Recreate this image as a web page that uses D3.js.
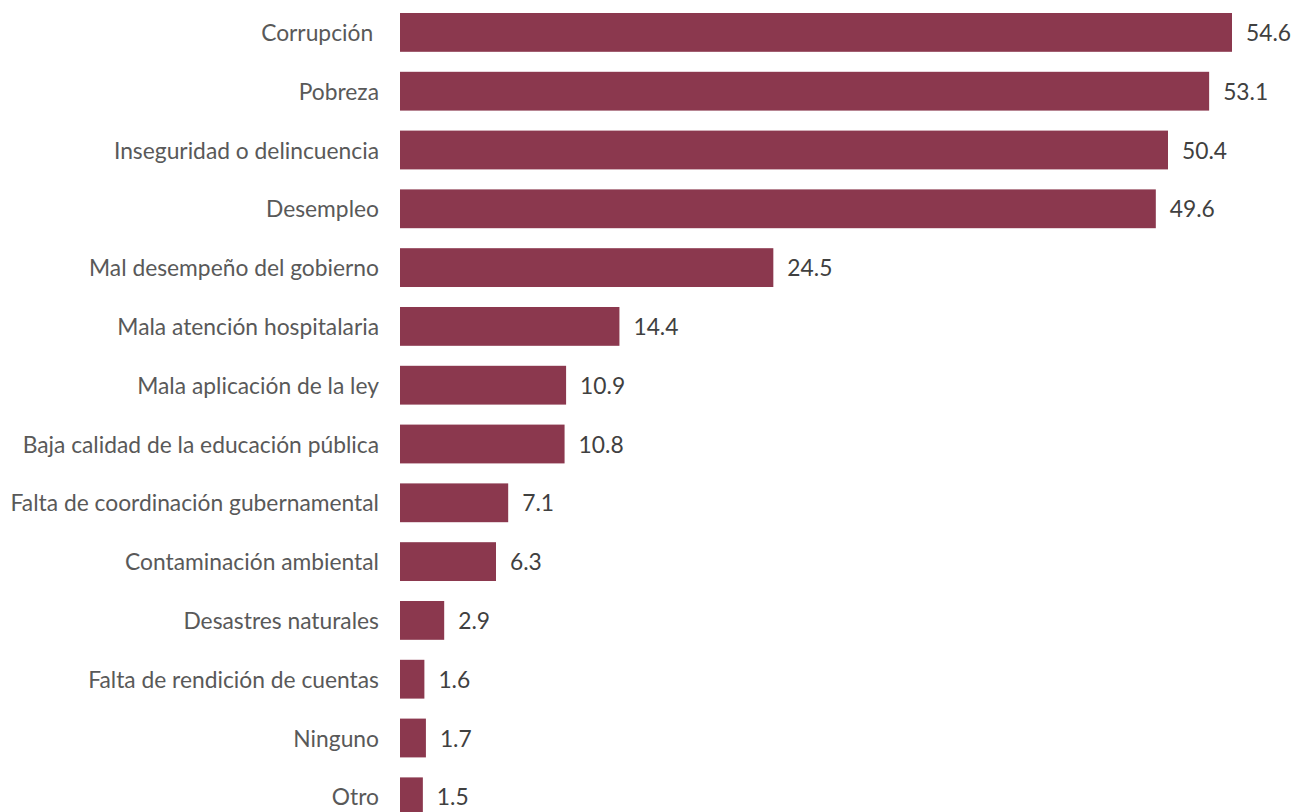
<!DOCTYPE html>
<html>
<head>
<meta charset="utf-8">
<script src="https://cdn.jsdelivr.net/npm/d3@7"></script>
<style>
  html, body { margin: 0; padding: 0; background: #ffffff; }
  svg { display: block; }
  text { font-family: Lato, "Open Sans", sans-serif; white-space: pre; }
</style>
</head>
<body>
<svg id="chart" width="1300" height="812"></svg>
<script>
// Problemas más importantes (porcentaje)
const categories = [
  "Corrupción ",
  "Pobreza",
  "Inseguridad o delincuencia",
  "Desempleo",
  "Mal desempeño del gobierno",
  "Mala atención hospitalaria",
  "Mala aplicación de la ley",
  "Baja calidad de la educación pública",
  "Falta de coordinación gubernamental",
  "Contaminación ambiental",
  "Desastres naturales",
  "Falta de rendición de cuentas",
  "Ninguno",
  "Otro"
];
const values = [54.6, 53.1, 50.4, 49.6, 24.5, 14.4, 10.9, 10.8, 7.1, 6.3, 2.9, 1.6, 1.7, 1.5];

const data = categories.map((c, i) => ({ cat: c, val: values[i] }));

const svg = d3.select("#chart");
const left = 400;
const fontSize = 22.8;

const x = d3.scaleLinear().domain([0, 54.6]).range([left, 1232]);
const y = d3.scaleBand()
  .domain(categories)
  .range([3, 3 + 14 * 58.8])
  .paddingInner(0.34)
  .paddingOuter(0.17);

// bars
svg.append("g").selectAll("rect")
  .data(data)
  .join("rect")
  .attr("x", x(0))
  .attr("y", d => y(d.cat))
  .attr("width", d => x(d.val) - x(0))
  .attr("height", y.bandwidth())
  .attr("fill", "#8b384e");

// category axis
const yAxis = d3.axisLeft(y).tickSize(0).tickPadding(0);
const gy = svg.append("g")
  .attr("transform", `translate(${left - 21},0)`)
  .call(yAxis);
gy.select(".domain").remove();
gy.selectAll("text")
  .attr("font-family", "Lato, sans-serif")
  .attr("font-size", fontSize)
  .attr("fill", "#595959")
  .attr("dy", "0.38em");

// value labels
svg.append("g").selectAll("text")
  .data(data)
  .join("text")
  .attr("x", d => x(d.val) + 14)
  .attr("y", d => y(d.cat) + y.bandwidth() / 2)
  .attr("dy", "0.38em")
  .attr("font-size", fontSize)
  .attr("fill", "#404040")
  .text(d => d3.format(".1f")(d.val));
</script>
</body>
</html>
